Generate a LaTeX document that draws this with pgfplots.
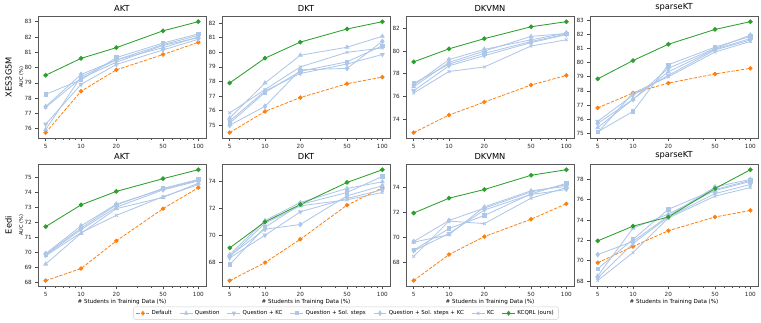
\documentclass[border=0pt]{standalone}
\usepackage{fontspec}
\setmainfont{DejaVu Sans}
\usepackage{pgfplots}
\pgfplotsset{compat=1.18}
\usepgfplotslibrary{groupplots}
\definecolor{dor}{HTML}{FF7F0E}
\definecolor{lb}{HTML}{AEC7E8}
\definecolor{gr}{HTML}{2CA02C}
\begin{document}
\begin{tikzpicture}
\pgfplotsset{
  every axis/.append style={
    scale only axis, width=168pt, height=122pt,
    xmode=log, xmin=4.30, xmax=116.2,
    xtick={5,10,20,50,100}, xticklabels={5,10,20,50,100},
    minor xtick={6,7,8,9,30,40,60,70,80,90},
    tick align=outside, tick pos=left,
    major tick length=3.2pt, minor tick length=1.8pt,
    every tick/.style={black!70, line width=0.6pt},
    axis line style={black!65, line width=0.7pt},
    ticklabel style={font=\fontsize{5.7}{6}\selectfont, text=black!85},
    xticklabel style={yshift=0.5pt},
    /pgf/number format/assume math mode=true,
    yticklabel style={/pgf/number format/fixed, xshift=0.5pt},
    title style={font=\fontsize{8.3}{9}\selectfont, yshift=-4.5pt},
    xlabel style={font=\fontsize{5.6}{6}\selectfont, yshift=4pt},
    clip=false,
  },
  def/.style={color=dor, dashed, dash pattern=on 3.3pt off 1.5pt, mark=*, mark options={solid}, mark size=1.8pt, line width=0.8pt},
  q/.style={color=lb, mark=triangle*, mark size=2.1pt, line width=0.85pt},
  qkc/.style={color=lb, mark=triangle*, mark options={rotate=180}, mark size=2.1pt, line width=0.85pt},
  qs/.style={color=lb, mark=square*, mark size=1.7pt, line width=0.85pt},
  qskc/.style={color=lb, mark=diamond*, mark size=2.3pt, line width=0.85pt},
  kc/.style={color=lb, mark=x, mark size=2pt, line width=0.85pt},
  ours/.style={color=gr, mark=*, mark size=1.9pt, line width=0.85pt},
}
\begin{groupplot}[group style={group size=4 by 2, horizontal sep=16pt, vertical sep=26pt}]
% ---------- XES3G5M AKT
\nextgroupplot[title={AKT}, ymin=75.39, ymax=83.36, ytick={76,77,78,79,80,81,82,83}]
\node[rotate=90, font=\fontsize{8.3}{9}\selectfont] at (rel axis cs:-0.175,0.5) {XES3G5M};
\node[rotate=90, font=\fontsize{5}{6}\selectfont] at (rel axis cs:-0.1,0.5) {AUC (\%)};
\addplot[def] coordinates {(5,75.75)(10,78.45)(20,79.85)(50,80.85)(100,81.65)};
\addplot[q] coordinates {(5,75.95)(10,79.4)(20,80.5)(50,81.3)(100,82.0)};
\addplot[qkc] coordinates {(5,76.3)(10,78.9)(20,80.2)(50,81.15)(100,81.85)};
\addplot[qs] coordinates {(5,78.25)(10,79.2)(20,80.65)(50,81.6)(100,82.2)};
\addplot[qskc] coordinates {(5,77.45)(10,79.55)(20,80.5)(50,81.5)(100,82.1)};
\addplot[kc] coordinates {(5,77.4)(10,79.3)(20,80.35)(50,81.45)(100,81.95)};
\addplot[ours] coordinates {(5,79.5)(10,80.6)(20,81.3)(50,82.4)(100,83.0)};
% ---------- XES3G5M DKT
\nextgroupplot[title={DKT}, ymin=74.12, ymax=82.48, ytick={75,76,77,78,79,80,81,82}]
\addplot[def] coordinates {(5,74.5)(10,75.95)(20,76.9)(50,77.85)(100,78.3)};
\addplot[q] coordinates {(5,75.5)(10,77.9)(20,79.8)(50,80.35)(100,81.1)};
\addplot[qkc] coordinates {(5,75.3)(10,77.35)(20,78.55)(50,79.2)(100,79.85)};
\addplot[qs] coordinates {(5,75.15)(10,77.25)(20,78.7)(50,79.35)(100,80.45)};
\addplot[qskc] coordinates {(5,75.0)(10,76.3)(20,78.8)(50,78.9)(100,80.75)};
\addplot[kc] coordinates {(5,75.85)(10,77.45)(20,79.0)(50,80.0)(100,80.3)};
\addplot[ours] coordinates {(5,77.9)(10,79.6)(20,80.7)(50,81.6)(100,82.1)};
% ---------- XES3G5M DKVMN
\nextgroupplot[title={DKVMN}, ymin=72.31, ymax=83.09, ytick={74,76,78,80,82}]
\addplot[def] coordinates {(5,72.8)(10,74.35)(20,75.5)(50,77.0)(100,77.85)};
\addplot[q] coordinates {(5,76.85)(10,79.0)(20,80.0)(50,81.3)(100,81.55)};
\addplot[qkc] coordinates {(5,76.5)(10,78.7)(20,79.6)(50,80.75)(100,81.45)};
\addplot[qs] coordinates {(5,77.15)(10,78.85)(20,79.8)(50,80.85)(100,81.5)};
\addplot[qskc] coordinates {(5,77.0)(10,79.25)(20,80.15)(50,81.0)(100,81.6)};
\addplot[kc] coordinates {(5,76.3)(10,78.2)(20,78.6)(50,80.45)(100,81.0)};
\addplot[ours] coordinates {(5,79.05)(10,80.2)(20,81.1)(50,82.15)(100,82.6)};
% ---------- XES3G5M sparseKT
\nextgroupplot[title={sparseKT}, ymin=74.66, ymax=83.29, ytick={75,76,77,78,79,80,81,82,83}]
\addplot[def] coordinates {(5,76.8)(10,77.85)(20,78.55)(50,79.2)(100,79.6)};
\addplot[q] coordinates {(5,75.4)(10,77.4)(20,79.35)(50,80.95)(100,81.7)};
\addplot[qkc] coordinates {(5,75.85)(10,77.7)(20,79.1)(50,80.9)(100,81.6)};
\addplot[qs] coordinates {(5,75.1)(10,76.55)(20,79.85)(50,81.1)(100,81.85)};
\addplot[qskc] coordinates {(5,75.7)(10,77.4)(20,79.6)(50,81.0)(100,81.95)};
\addplot[kc] coordinates {(5,75.05)(10,77.85)(20,79.0)(50,80.75)(100,81.5)};
\addplot[ours] coordinates {(5,78.85)(10,80.15)(20,81.3)(50,82.35)(100,82.9)};
% ---------- Eedi AKT
\nextgroupplot[title={AKT}, ymin=67.73, ymax=75.87, ytick={68,69,70,71,72,73,74,75},
  xlabel={\# Students in Training Data (\%)},
  legend columns=7,
  legend style={at={(rel axis cs:1.833,-0.222)}, anchor=center, font=\fontsize{5.5}{6}\selectfont,
    draw=black!18, rounded corners=1.5pt, inner xsep=2.5pt, inner ysep=1.5pt,
    /tikz/every even column/.style={column sep=5.5pt}},
  legend image post style={xscale=0.75}]
\node[rotate=90, font=\fontsize{8.3}{9}\selectfont] at (rel axis cs:-0.175,0.5) {Eedi};
\node[rotate=90, font=\fontsize{5}{6}\selectfont] at (rel axis cs:-0.1,0.5) {AUC (\%)};
\addplot[def] coordinates {(5,68.1)(10,68.9)(20,70.75)(50,72.9)(100,74.3)};
\addlegendentry{Default}
\addplot[q] coordinates {(5,69.2)(10,71.25)(20,72.9)(50,73.65)(100,74.6)};
\addlegendentry{Question}
\addplot[qkc] coordinates {(5,69.8)(10,71.5)(20,73.0)(50,74.15)(100,74.75)};
\addlegendentry{Question + KC}
\addplot[qs] coordinates {(5,69.85)(10,71.6)(20,73.15)(50,74.25)(100,74.85)};
\addlegendentry{Question + Sol. steps}
\addplot[qskc] coordinates {(5,69.9)(10,71.75)(20,73.2)(50,74.2)(100,74.8)};
\addlegendentry{Question + Sol. steps + KC}
\addplot[kc] coordinates {(5,69.75)(10,71.3)(20,72.45)(50,73.7)(100,74.5)};
\addlegendentry{KC}
\addplot[ours] coordinates {(5,71.7)(10,73.15)(20,74.05)(50,74.9)(100,75.5)};
\addlegendentry{KCQRL (ours)}
% ---------- Eedi DKT
\nextgroupplot[title={DKT}, ymin=66.19, ymax=75.32, ytick={68,70,72,74}, xlabel={\# Students in Training Data (\%)}]
\addplot[def] coordinates {(5,66.6)(10,67.95)(20,69.7)(50,72.25)(100,73.55)};
\addplot[q] coordinates {(5,68.55)(10,71.1)(20,72.45)(50,73.5)(100,74.0)};
\addplot[qkc] coordinates {(5,68.3)(10,70.0)(20,71.75)(50,72.75)(100,73.4)};
\addplot[qs] coordinates {(5,67.8)(10,70.6)(20,72.3)(50,73.2)(100,74.4)};
\addplot[qskc] coordinates {(5,68.45)(10,70.45)(20,70.8)(50,72.95)(100,73.7)};
\addplot[kc] coordinates {(5,68.4)(10,70.9)(20,72.2)(50,72.65)(100,73.2)};
\addplot[ours] coordinates {(5,69.05)(10,71.0)(20,72.3)(50,73.95)(100,74.9)};
% ---------- Eedi DKVMN
\nextgroupplot[title={DKVMN}, ymin=66.05, ymax=75.9, ytick={68,70,72,74}, xlabel={\# Students in Training Data (\%)}]
\addplot[def] coordinates {(5,66.5)(10,68.6)(20,70.05)(50,71.45)(100,72.7)};
\addplot[q] coordinates {(5,69.6)(10,70.2)(20,72.45)(50,73.75)(100,74.1)};
\addplot[qkc] coordinates {(5,68.9)(10,70.3)(20,72.2)(50,73.45)(100,73.85)};
\addplot[qs] coordinates {(5,68.95)(10,70.7)(20,71.75)(50,73.5)(100,74.35)};
\addplot[qskc] coordinates {(5,69.65)(10,71.35)(20,72.35)(50,73.65)(100,74.25)};
\addplot[kc] coordinates {(5,68.45)(10,71.3)(20,71.1)(50,73.15)(100,74.0)};
\addplot[ours] coordinates {(5,71.95)(10,73.15)(20,73.85)(50,75.0)(100,75.45)};
% ---------- Eedi sparseKT
\nextgroupplot[title={sparseKT}, ymin=67.5, ymax=79.5, ytick={68,70,72,74,76,78}, xlabel={\# Students in Training Data (\%)}]
\addplot[def] coordinates {(5,69.8)(10,71.4)(20,72.95)(50,74.3)(100,74.95)};
\addplot[q] coordinates {(5,68.5)(10,73.2)(20,74.6)(50,76.9)(100,77.8)};
\addplot[qkc] coordinates {(5,68.3)(10,71.7)(20,74.3)(50,76.6)(100,77.5)};
\addplot[qs] coordinates {(5,69.2)(10,72.1)(20,75.05)(50,77.0)(100,77.9)};
\addplot[qskc] coordinates {(5,70.6)(10,71.9)(20,74.4)(50,77.25)(100,78.0)};
\addplot[kc] coordinates {(5,68.05)(10,70.8)(20,74.2)(50,76.35)(100,77.2)};
\addplot[ours] coordinates {(5,71.95)(10,73.4)(20,74.3)(50,77.1)(100,78.95)};
\end{groupplot}
\path[use as bounding box] ([shift={(-38pt,13pt)}]group c1r1.north west) rectangle ([shift={(723pt,-306pt)}]group c1r1.north west);
\end{tikzpicture}
\end{document}
